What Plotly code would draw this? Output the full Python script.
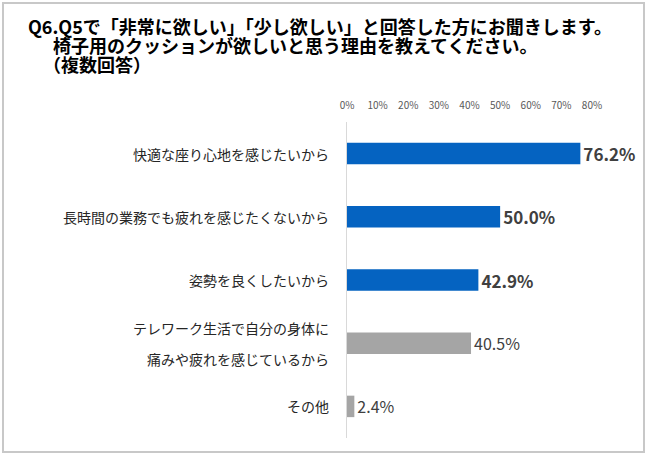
import plotly.graph_objects as go

categories = [
    "快適な座り心地を感じたいから",
    "長時間の業務でも疲れを感じたくないから",
    "姿勢を良くしたいから",
    "テレワーク生活で自分の身体に<br>痛みや疲れを感じているから",
    "その他",
]
values = [0.762, 0.500, 0.429, 0.405, 0.024]
bar_colors = ["#0563C1", "#0563C1", "#0563C1", "#A5A5A5", "#A5A5A5"]
bold_labels = [True, True, True, False, False]
tick_vals = [0, 0.1, 0.2, 0.3, 0.4, 0.5, 0.6, 0.7, 0.8]
title_lines = [
    "Q6.Q5で「非常に欲しい」「少し欲しい」と回答した方にお聞きします。",
    "椅子用のクッションが欲しいと思う理由を教えてください。",
    "（複数回答）",
]

W, H = 650, 457
ML, MR, MT, MB = 347, 58, 122, 19
PW = W - ML - MR
PH = H - MT - MB

def px(xp):
    return (xp - ML) / PW

def py(yp):
    return 1 - (yp - MT) / PH

FONT = "Noto Sans CJK JP"

text_labels = [
    (f"<b>{v*100:.1f}%</b>" if b else f"{v*100:.1f}%") for v, b in zip(values, bold_labels)
]
text_sizes = [17 if b else 16 for b in bold_labels]

fig = go.Figure(go.Bar(
    x=values,
    y=list(range(len(categories))),
    orientation="h",
    marker=dict(color=bar_colors, line=dict(width=0)),
    width=0.34,
    text=text_labels,
    textposition="outside",
    constraintext="none",
    textfont=dict(family=FONT, size=text_sizes, color="#404040"),
    cliponaxis=False,
))

annotations = []
for i, cat in enumerate(categories):
    parts = cat.split("<br>")
    n = len(parts)
    for j, p in enumerate(parts):
        shift = 0 if n == 1 else (15.5 if j == 0 else -15.5)
        annotations.append(dict(
            x=0, xref="paper", y=i, yref="y", text=p, showarrow=False,
            xanchor="right", xshift=-16, yshift=shift,
            font=dict(family=FONT, size=14, color="#262626"),
        ))

title_pos = [(26, 26), (51, 45), (41, 64)]
for line, (xp, yp) in zip(title_lines, title_pos):
    annotations.append(dict(
        x=px(xp), xref="paper", y=py(yp), yref="paper", text=f"<b>{line}</b>",
        showarrow=False, xanchor="left", yanchor="middle",
        font=dict(family=FONT, size=18, color="#000000"),
    ))

fig.update_layout(
    width=W, height=H,
    margin=dict(l=ML, r=MR, t=MT, b=MB),
    paper_bgcolor="white", plot_bgcolor="white",
    showlegend=False,
    annotations=annotations,
    shapes=[dict(type="rect", xref="paper", yref="paper",
                 x0=px(3), x1=px(644), y0=py(3), y1=py(452),
                 line=dict(color="#C8C8C8", width=2), layer="below")],
    xaxis=dict(
        range=[0, 0.8], side="top", tickvals=tick_vals, tickformat=".0%",
        showgrid=False, zeroline=False, showline=False, ticks="",
        ticklabelstandoff=10,
        tickfont=dict(family=FONT, size=10, color="#595959"),
        fixedrange=True,
    ),
    yaxis=dict(
        range=[len(categories) - 0.5, -0.5], showticklabels=False,
        showgrid=False, zeroline=False, showline=True, linecolor="#D9D9D9",
        linewidth=1, ticks="", fixedrange=True,
    ),
)

fig.write_html("out.html", config={"displayModeBar": False},
               post_script="document.body.style.margin='0';")
